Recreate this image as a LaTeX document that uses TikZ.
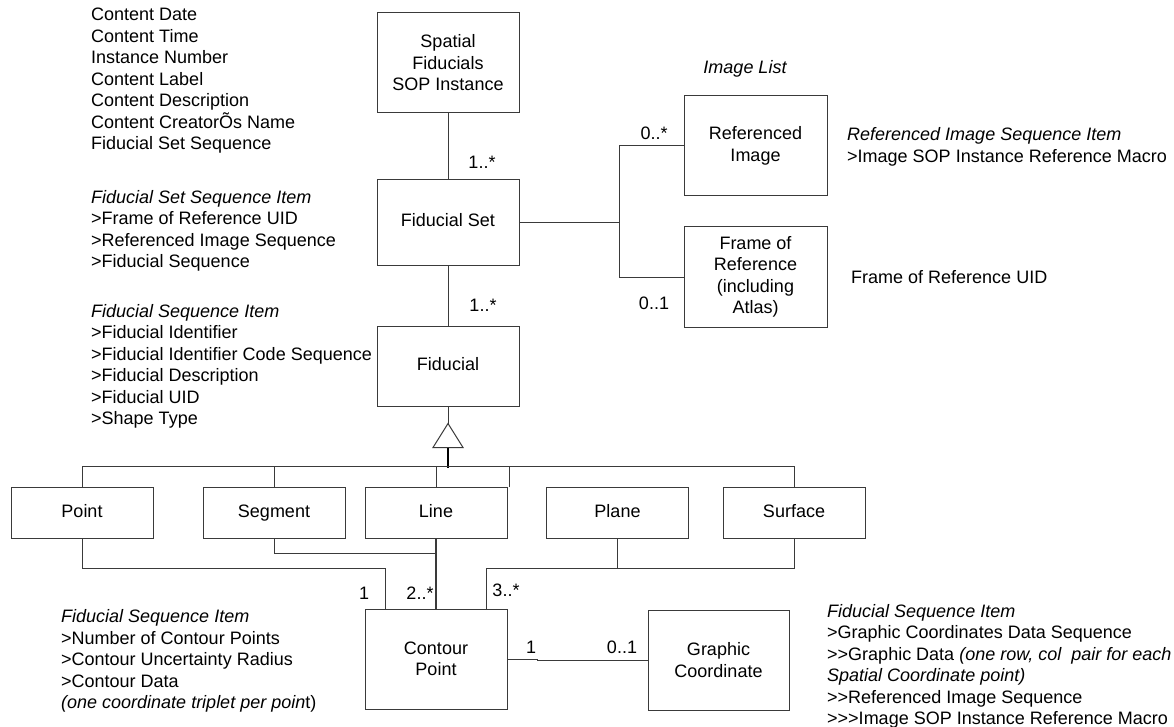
\documentclass[tikz,border=0pt]{standalone}
\usepackage{fontspec}
\setmainfont{Liberation Sans}
\usepackage{tikz}
\definecolor{cline}{HTML}{3A3A3A}
\newcommand{\dfont}{\fontsize{18}{21.5}\selectfont}
\newcommand{\gtgt}{>\kern0pt>}
\tikzset{
  cls/.style={draw=cline,line width=1pt,align=center,inner sep=0,font=\dfont},
  single/.style={text height=13pt,text depth=4pt},
  attr/.style={anchor=west,align=left,inner sep=0,font=\dfont},
  mult/.style={inner sep=0,font=\dfont},
  link/.style={draw=cline,line width=1pt}
}
\begin{document}
\begin{tikzpicture}[x=1pt,y=-1pt]
  \useasboundingbox (0,0) rectangle (1174,727);
  % classes
  \node[cls,minimum width=142,minimum height=100] (sfsop) at (448,63) {Spatial\\Fiducials\\SOP Instance};
  \node[cls,single,minimum width=142,minimum height=85] (fset) at (448,222.5) {Fiducial Set};
  \node[cls,single,minimum width=142,minimum height=80] (fid) at (448,366) {Fiducial};
  \node[cls,minimum width=143,minimum height=100] (refimg) at (755.5,146) {Referenced\\Image};
  \node[cls,minimum width=143,minimum height=100] (frame) at (755.5,277) {Frame of\\Reference\\(including\\Atlas)};
  \node[cls,single,minimum width=142,minimum height=51] (point) at (82,512.5) {Point};
  \node[cls,single,minimum width=142,minimum height=51] (segment) at (274,512.5) {Segment};
  \node[cls,single,minimum width=142,minimum height=51] (line) at (436,512.5) {Line};
  \node[cls,single,minimum width=142,minimum height=51] (plane) at (617.5,512.5) {Plane};
  \node[cls,single,minimum width=142,minimum height=51] (surface) at (794,512.5) {Surface};
  \node[cls,minimum width=142,minimum height=100] (contour) at (436,659) {Contour\\Point};
  \node[cls,minimum width=141,minimum height=100] (graphic) at (718.5,660) {Graphic\\Coordinate};

  % attribute lists
  \node[attr] (sopattr) at (91,81) {Content Date\\Content Time\\Instance Number\\Content Label\\Content Description\\Content CreatorÕs Name\\Fiducial Set Sequence};
  \node[attr] (setattr) at (91,231) {\textit{Fiducial Set Sequence Item}\\>Frame of Reference UID\\>Referenced Image Sequence\\>Fiducial Sequence};
  \node[attr] (fidattr) at (91,366.5) {\textit{Fiducial Sequence Item}\\>Fiducial Identifier\\>Fiducial Identifier Code Sequence\\>Fiducial Description\\>Fiducial UID\\>Shape Type};
  \node[attr] (contattr) at (61,661) {\textit{Fiducial Sequence Item}\\>Number of Contour Points\\>Contour Uncertainty Radius\\>Contour Data\\\textit{(one coordinate triplet per poin}t)};
  \node[attr] (graphattr) at (827,666.5) {\textit{Fiducial Sequence Item}\\>Graphic Coordinates Data Sequence\\\gtgt Graphic Data \textit{(one row, col\ \ pair for each}\\\textit{Spatial Coordinate point)}\\\gtgt Referenced Image Sequence\\\gtgt\kern0pt>Image SOP Instance Reference Macro};
  \node[attr] (refattr) at (847,147) {\textit{Referenced Image Sequence Item}\\>Image SOP Instance Reference Macro};
  \node[attr] (frameattr) at (851,277) {Frame of Reference UID};
  \node[mult,font=\dfont\itshape] (imglist) at (745,69) {Image List};

  % associations
  \draw[link] (sfsop) -- (fset);
  \draw[link] (fset) -- (fid);
  \coordinate (fork) at (619,222.5);
  \draw[link] (fset.east) -- (fork);
  \draw[link] (refimg.west) -| (fork) |- (frame.west);
  \node[mult] (m1) at (482,162) {1..*};
  \node[mult] (m2) at (483,305) {1..*};
  \node[mult] (m3) at (654,133) {0..*};
  \node[mult] (m4) at (654,303) {0..1};

  % generalisation
  \draw[link] (fid.south) -- ++(0,17) coordinate (tip);
  \draw[link] (tip) -- ++(-15,24) -- ++(30,0) -- cycle;
  \draw[line width=2pt] (tip) ++(0,24) coordinate (tbase) -- ++(0,20);
  \draw[link] (point.north) -- ++(0,-20) -| (surface.north);
  \draw[link] (segment.north) -- ++(0,-20);
  \draw[link] (line.north) -- ++(0,-20);
  \coordinate (stub) at (509,467);
  \draw[link] (stub) -- ++(0,20);

  % shapes to contour point
  \coordinate (pjoin) at (385,568);
  \coordinate (sjoin) at (436,553);
  \coordinate (qjoin) at (486,568);
  \draw[link] (point.south) |- (pjoin) -- (pjoin |- contour.north);
  \draw[link] (segment.south) |- (sjoin);
  \draw[link,line width=1.3pt] (line) -- (contour);
  \draw[link] (plane.south) -- (plane.south |- qjoin);
  \draw[link] (surface.south) |- (qjoin) -- (qjoin |- contour.north);
  \node[mult] (m5) at (364,593) {1};
  \node[mult] (m6) at (420,593) {2..*};
  \node[mult] (m7) at (506,590) {3..*};

  \draw[link] (contour.east) -- ++(30,0) |- (graphic.west);
  \node[mult] (m8) at (531,647) {1};
  \node[mult] (m9) at (622,647) {0..1};
\end{tikzpicture}
\end{document}
